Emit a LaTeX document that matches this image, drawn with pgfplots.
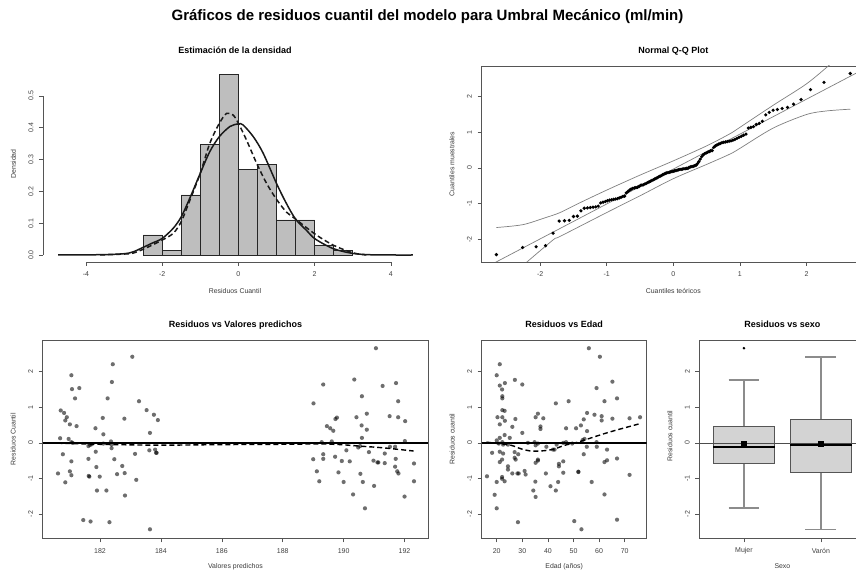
\documentclass[border=0pt]{standalone}
\usepackage{fontspec}
\setmainfont{Liberation Sans}
\usepackage{pgfplots}
\pgfplotsset{compat=1.18}
\usepgfplotslibrary{statistics}
\definecolor{framecol}{HTML}{555555}
\definecolor{tickcol}{HTML}{404040}
\definecolor{labcol}{HTML}{3A3A3A}
\definecolor{histfill}{HTML}{BEBEBE}
\definecolor{boxfill}{HTML}{D3D3D3}
\definecolor{envcol}{HTML}{7F7F7F}
\definecolor{whiskcol}{HTML}{8C8C8C}
\pgfplotsset{
 rpanel/.style={
  scale only axis, anchor=south west,
  tick pos=left, tick align=outside, major tick length=4pt,
  axis line style={draw=framecol, line width=0.8pt},
  tick style={draw=framecol, line width=0.6pt},
  /pgf/number format/assume math mode=true,
  ticklabel style={font=\fontsize{7}{8}\selectfont, text=tickcol},
  xticklabel style={anchor=center, yshift=-8.5pt},
  yticklabel style={xshift=-8pt, rotate=90, anchor=center},
  every axis title/.style={at={(axis description cs:0.5,1)}, anchor=base, yshift=12.3pt, font=\bfseries\fontsize{9}{11}\selectfont},
  every axis x label/.style={at={(axis description cs:0.5,0)}, anchor=base, yshift=-32pt, font=\fontsize{6.9}{8}\selectfont, text=labcol},
  every axis y label/.style={at={(axis description cs:0,0.5)}, xshift=-29.5pt, rotate=90, anchor=center, font=\fontsize{6.9}{8}\selectfont, text=labcol},
 },
 rdots/.style={only marks, mark=*, mark size=2.1pt, mark options={solid, fill=black, fill opacity=0.57, draw opacity=0}},
}
\begin{document}
\begin{tikzpicture}
\node[anchor=base, font=\bfseries\fontsize{15}{18}\selectfont] at (427.5pt,552.3pt) {Gráficos de residuos cuantil del modelo para Umbral Mecánico (ml/min)};

% ---------------- Panel 1: histogram ----------------
\begin{axis}[rpanel, at={(43pt,311pt)}, width=384pt, height=196pt,
  xmin=-5.128, xmax=4.95, ymin=-0.022, ymax=0.594,
  axis line style={draw=none}, clip=false,
  xtick={-4,-2,0,2,4}, ytick={0,0.1,0.2,0.3,0.4,0.5},
  yticklabels={0.0,0.1,0.2,0.3,0.4,0.5},
  title={Estimación de la densidad}, xlabel={Residuos Cuantil}, ylabel={Densidad}]
\addplot[ybar interval, fill=histfill, draw=black!85, line width=0.7pt] coordinates {
(-2.5,0.0630) (-2,0.0157) (-1.5,0.1890) (-1,0.3465) (-0.5,0.5669) (0,0.2677) (0.5,0.2835) (1,0.1102) (1.5,0.1102) (2,0.0315) (2.5,0.0157) (3,0)};
\addplot[black!90, line width=1.5pt, smooth] coordinates {
(-4.73,0) (-3.6,0.001) (-3.0,0.004) (-2.76,0.01) (-2.5,0.024) (-2.25,0.038) (-2,0.052) (-1.71,0.084) (-1.5,0.12) (-1.27,0.18) (-1.0,0.257) (-0.75,0.325) (-0.5,0.372) (-0.22,0.404) (0,0.412) (0.12,0.409) (0.39,0.372) (0.65,0.32) (1.0,0.225) (1.26,0.162) (1.5,0.113) (1.79,0.077) (2.02,0.05) (2.49,0.02) (3.0,0.005) (3.54,0.0005) (4.58,0)};
\addplot[black!90, line width=1.5pt, dash pattern=on 5pt off 3pt, smooth] coordinates {
(-3.63,0) (-3.0,0.003) (-2.76,0.006) (-2.5,0.018) (-2.25,0.032) (-2,0.047) (-1.71,0.068) (-1.5,0.105) (-1.27,0.173) (-1.0,0.257) (-0.75,0.351) (-0.5,0.414) (-0.31,0.445) (-0.14,0.44) (0,0.414) (0.21,0.362) (0.48,0.288) (0.74,0.225) (1.0,0.175) (1.26,0.135) (1.5,0.113) (2.02,0.065) (2.49,0.031) (3.0,0.007) (3.36,0)};
\draw[framecol, line width=0.8pt] (axis cs:-4,-0.022) -- (axis cs:4,-0.022);
\draw[framecol, line width=0.8pt] (axis cs:-5.128,0) -- (axis cs:-5.128,0.5);
\end{axis}

% ---------------- Panel 2: QQ plot ----------------
\begin{axis}[rpanel, at={(481.5pt,311pt)}, width=383.6pt, height=196pt,
  xmin=-2.88, xmax=2.88, ymin=-2.637, ymax=2.861,
  xtick={-2,-1,0,1,2}, ytick={-2,-1,0,1,2},
  title={Normal Q-Q Plot}, xlabel={Cuantiles teóricos}, ylabel={Cuantiles muestrales}]
\addplot[envcol, line width=0.7pt] coordinates {(-2.88,-2.852) (2.88,2.792)};
\addplot[envcol, line width=0.7pt, smooth] coordinates {
(-2.657,-1.67) (-2.26,-1.59) (-1.93,-1.40) (-1.70,-1.25) (-1.43,-1.00) (-1.0,-0.62) (-0.5,-0.20) (0,0.20) (0.5,0.62) (0.85,0.96) (1.0,1.14) (1.5,1.76) (2.0,2.36) (2.35,2.90)};
\addplot[envcol, line width=0.7pt, smooth] coordinates {
(-2.2,-2.64) (-1.8,-2.01) (-1.70,-1.92) (-1.0,-1.25) (-0.5,-0.78) (0,-0.30) (0.5,0.10) (0.85,0.39) (1.0,0.55) (1.5,1.12) (2.0,1.50) (2.3,1.60) (2.657,1.65)};
\addplot[only marks, mark=*, mark size=1.8pt, mark options={solid, draw opacity=0, fill=black}] coordinates {
(-2.657,-2.43) (-2.263,-2.23) (-2.060,-2.21) (-1.918,-2.18) (-1.806,-1.83) (-1.714,-1.49) (-1.634,-1.48) (-1.563,-1.47) (-1.499,-1.36) (-1.441,-1.35) (-1.387,-1.20) (-1.337,-1.13) (-1.290,-1.12) (-1.246,-1.11) (-1.205,-1.10) (-1.165,-1.09) (-1.127,-1.07) (-1.091,-0.98) (-1.055,-0.96) (-1.021,-0.94) (-0.988,-0.92) (-0.957,-0.90) (-0.926,-0.89) (-0.896,-0.88) (-0.867,-0.87) (-0.839,-0.86) (-0.811,-0.84) (-0.784,-0.82) (-0.757,-0.80) (-0.731,-0.79) (-0.706,-0.70) (-0.681,-0.66) (-0.656,-0.62) (-0.632,-0.59) (-0.608,-0.57) (-0.584,-0.56) (-0.561,-0.55) (-0.538,-0.54) (-0.515,-0.52) (-0.493,-0.49) (-0.471,-0.48) (-0.449,-0.47) (-0.427,-0.45) (-0.405,-0.43) (-0.384,-0.41) (-0.363,-0.39) (-0.342,-0.37) (-0.321,-0.35) (-0.300,-0.33) (-0.280,-0.31) (-0.259,-0.29) (-0.239,-0.27) (-0.219,-0.25) (-0.199,-0.23) (-0.179,-0.21) (-0.159,-0.19) (-0.139,-0.17) (-0.119,-0.15) (-0.099,-0.14) (-0.079,-0.13) (-0.059,-0.12) (-0.040,-0.11) (-0.020,-0.10) (0,-0.09) (0.020,-0.08) (0.040,-0.07) (0.059,-0.06) (0.079,-0.05) (0.099,-0.04) (0.119,-0.04) (0.139,-0.03) (0.159,-0.02) (0.179,-0.02) (0.199,-0.01) (0.219,-0.01) (0.239,0.02) (0.259,0.03) (0.280,0.04) (0.300,0.05) (0.321,0.06) (0.342,0.08) (0.363,0.12) (0.384,0.18) (0.405,0.25) (0.427,0.32) (0.449,0.37) (0.471,0.40) (0.493,0.42) (0.515,0.44) (0.538,0.46) (0.561,0.48) (0.584,0.49) (0.608,0.58) (0.632,0.62) (0.656,0.65) (0.681,0.67) (0.706,0.69) (0.731,0.71) (0.757,0.72) (0.784,0.73) (0.811,0.74) (0.839,0.75) (0.867,0.76) (0.896,0.78) (0.926,0.80) (0.957,0.83) (0.988,0.86) (1.021,0.89) (1.055,0.92) (1.091,0.95) (1.127,1.12) (1.165,1.14) (1.205,1.16) (1.246,1.22) (1.290,1.25) (1.337,1.31) (1.387,1.49) (1.441,1.56) (1.499,1.62) (1.563,1.64) (1.634,1.67) (1.714,1.70) (1.806,1.79) (1.918,1.92) (2.060,2.20) (2.263,2.40) (2.657,2.65)};
\end{axis}

% ---------------- Panel 3: residuals vs predicted ----------------
\begin{axis}[rpanel, at={(42.7pt,34.7pt)}, width=385.6pt, height=198.3pt,
  xmin=180.118, xmax=192.78, ymin=-2.683, ymax=2.891,
  xtick={182,184,186,188,190,192}, ytick={-2,-1,0,1,2},
  title={Residuos vs Valores predichos}, xlabel={Valores predichos}, ylabel={Residuos Cuantil},
  every axis x label/.append style={yshift=2pt}]
\addplot[rdots] coordinates {
(183.06,2.42) (182.42,2.21) (181.06,1.90) (182.39,1.71) (181.08,1.51) (181.32,1.54) (181.18,1.25) (182.25,1.25) (183.28,1.17) (180.71,0.91) (180.82,0.84) (180.91,0.72) (180.86,0.63) (181.01,0.52) (181.23,0.47) (182.09,0.70) (182.80,0.68) (183.53,0.92) (183.77,0.79) (183.90,0.64) (183.64,0.28) (181.85,0.41) (182.11,0.24) (180.69,0.13) (180.97,0.11) (181.06,0.02) (181.10,0.00) (181.67,-0.06) (181.73,-0.04) (181.62,-0.09) (182.11,-0.02) (182.36,0.04) (182.38,-0.05) (182.38,-0.15) (183.15,-0.31) (183.62,-0.21) (183.81,-0.19) (183.84,-0.28) (183.86,-0.28) (180.78,-0.32) (181.06,-0.52) (181.86,-0.25) (181.62,-0.45) (182.47,-0.46) (180.62,-0.86) (181.01,-0.80) (181.06,-0.91) (180.86,-1.11) (181.88,-0.68) (181.63,-0.93) (181.65,-0.95) (181.99,-0.95) (182.73,-0.65) (182.56,-0.88) (182.81,-0.85) (183.19,-1.04) (181.90,-1.34) (182.21,-1.34) (182.82,-1.48) (181.45,-2.17) (181.69,-2.21) (182.31,-2.23) (183.64,-2.43)
(191.06,2.66) (189.33,1.64) (190.35,1.78) (191.28,1.60) (191.72,1.68) (190.60,1.31) (191.79,1.17) (189.01,1.11) (189.73,0.67) (189.78,0.71) (190.42,0.72) (190.76,0.82) (191.51,0.75) (191.79,0.72) (192.02,0.61) (190.59,0.49) (190.76,0.37) (189.45,0.47) (189.56,0.41) (189.66,0.34) (190.60,0.14) (189.61,0.04) (189.28,0.02) (192.01,0.05) (190.54,-0.09) (190.48,-0.13) (190.09,-0.21) (190.83,-0.26) (191.52,-0.11) (191.69,-0.11) (189.33,-0.32) (189.33,-0.45) (189.00,-0.46) (189.72,-0.39) (189.94,-0.51) (190.20,-0.52) (190.98,-0.50) (191.11,-0.55) (191.14,-0.55) (191.35,-0.30) (191.35,-0.57) (191.71,-0.45) (191.69,-0.67) (191.76,-0.80) (191.80,-0.86) (192.31,-0.58) (189.12,-0.80) (189.83,-0.83) (190.55,-0.87) (189.20,-1.08) (190.00,-1.10) (190.63,-1.10) (191.00,-1.21) (192.31,-1.08) (190.31,-1.45) (192.00,-1.51) (190.70,-1.84)};
\addplot[black, line width=1.3pt] coordinates {(180.118,0) (192.78,0)};
\addplot[black, line width=1.4pt, dash pattern=on 5pt off 3pt, smooth] coordinates {
(180.6,-0.01) (181.5,-0.03) (182.5,-0.05) (184,-0.065) (186,-0.05) (188,-0.04) (189.2,-0.03) (189.9,-0.05) (190.5,-0.09) (191.3,-0.14) (192.3,-0.23)};
\end{axis}

% ---------------- Panel 4: residuals vs age ----------------
\begin{axis}[rpanel, at={(481.7pt,34.7pt)}, width=165pt, height=198.3pt,
  xmin=14.14, xmax=78.6, ymin=-2.683, ymax=2.891,
  xtick={20,30,40,50,60,70}, ytick={-2,-1,0,1,2},
  title={Residuos vs Edad}, xlabel={Edad (años)}, ylabel={Residuos cuantil},
  every axis x label/.append style={yshift=2pt}]
\addplot[rdots] coordinates {
(56.0,2.66) (60.3,2.42) (21.2,2.21) (20.0,1.90) (21.2,1.61) (22.1,1.50) (23.2,1.68) (27.1,1.77) (30.0,1.64) (22.2,1.31) (22.2,1.25) (65.2,1.72) (59.0,1.54) (62.1,1.17) (67.0,1.25) (43.1,1.11) (48.1,1.17) (22.2,0.92) (23.1,0.90) (20.3,0.72) (22.2,0.72) (23.2,0.62) (21.2,0.52) (23.1,0.22) (27.3,0.67) (26.1,0.45) (30.0,0.28) (35.2,0.72) (36.1,0.82) (38.2,0.69) (37.1,0.46) (37.1,0.39) (47.1,0.41) (51.0,0.41) (52.9,0.49) (54.0,0.66) (55.3,0.84) (58.2,0.79) (61.0,0.75) (61.0,0.63) (65.2,0.68) (71.9,0.69) (76.0,0.72) (55.3,0.33) (53.6,0.08) (54.3,0.11) (16.2,-0.94) (20.0,0.07) (21.2,0.14) (22.2,0.02) (25.1,0.14) (20.8,-0.02) (22.5,-0.05) (24.4,-0.05) (32.2,0.00) (34.8,0.02) (35.2,-0.07) (36.1,-0.02) (39.4,-0.11) (42.0,-0.19) (43.4,-0.05) (46.0,0.00) (47.1,0.02) (49.5,-0.02) (55.2,-0.11) (59.1,-0.11) (63.1,-0.19) (59.0,0.02) (18.2,-0.28) (21.2,-0.25) (22.5,-0.30) (27.0,-0.26) (27.0,-0.42) (27.4,-0.47) (28.4,-0.32) (21.2,-0.54) (22.1,-0.47) (24.4,-0.66) (24.4,-0.75) (26.1,-0.86) (28.1,-0.86) (28.6,-0.86) (30.9,-0.79) (31.3,-0.89) (22.1,-0.96) (23.1,-1.08) (22.1,-1.01) (20.0,-1.10) (19.2,-1.46) (20.0,-1.84) (28.3,-2.23) (35.2,-0.56) (36.1,-0.47) (36.1,-0.50) (39.2,-0.86) (35.1,-1.09) (34.3,-1.34) (35.2,-1.52) (41.0,-1.22) (43.1,-1.34) (44.0,-1.10) (44.3,-0.59) (44.3,-0.66) (46.0,-0.52) (46.0,-0.84) (51.9,-0.81) (51.9,-0.82) (54.0,-0.32) (57.1,-1.10) (62.1,-0.54) (63.1,-0.49) (62.1,-1.45) (67.0,-0.44) (71.9,-0.90) (50.3,-2.20) (53.1,-2.43) (67.0,-2.16) (42.6,-0.19)};
\addplot[black, line width=1.3pt] coordinates {(14.14,0) (78.6,0)};
\addplot[black, line width=1.4pt, dash pattern=on 5pt off 3pt, smooth] coordinates {
(16.0,0.02) (20.5,-0.02) (25.7,-0.07) (29.6,-0.17) (33.5,-0.23) (38.7,-0.22) (42.6,-0.17) (46.5,-0.07) (51.7,0.02) (56.9,0.14) (62.1,0.26) (67.3,0.37) (76.0,0.54)};
\end{axis}

% ---------------- Panel 5: boxplot by sex ----------------
\begin{axis}[rpanel, at={(699.3pt,34.7pt)}, width=166.2pt, height=198.3pt,
  xmin=0.42, xmax=2.58, ymin=-2.683, ymax=2.891,
  xtick={1,2}, xticklabels={Mujer,Varón}, ytick={-2,-1,0,1,2},
  title={Residuos vs sexo}, xlabel={Sexo}, ylabel={Residuos cuantil},
  every axis x label/.append style={yshift=2pt},
  every axis y label/.append style={xshift=3pt}]
\addplot[boxplot/draw direction=y,
  boxplot prepared={lower whisker=-1.835, lower quartile=-0.58, median=-0.12, upper quartile=0.47, upper whisker=1.77, draw position=1, box extend=0.8, whisker extend=0.4},
  fill=boxfill, draw=framecol, line width=1pt, mark=*, mark size=0.7pt, mark options={fill=black, draw=black},
  boxplot/every median/.style={draw=black, line width=2.5pt},
  boxplot/every whisker/.style={draw=whiskcol, line width=1.3pt}] coordinates {(1,2.66)};
\addplot[boxplot/draw direction=y,
  boxplot prepared={lower whisker=-2.43, lower quartile=-0.83, median=-0.06, upper quartile=0.67, upper whisker=2.41, draw position=2, box extend=0.8, whisker extend=0.4},
  fill=boxfill, draw=framecol, line width=1pt,
  boxplot/every median/.style={draw=black, line width=2.5pt},
  boxplot/every whisker/.style={draw=whiskcol, line width=1.3pt}] coordinates {};
\addplot[black!70, line width=0.7pt] coordinates {(0.42,0) (2.58,0)};
\addplot[only marks, mark=square*, mark size=2.6pt, black] coordinates {(1,-0.03) (2,-0.02)};
\end{axis}

\pgfresetboundingbox
\useasboundingbox (0,0) rectangle (856pt,573pt);
\end{tikzpicture}
\end{document}
